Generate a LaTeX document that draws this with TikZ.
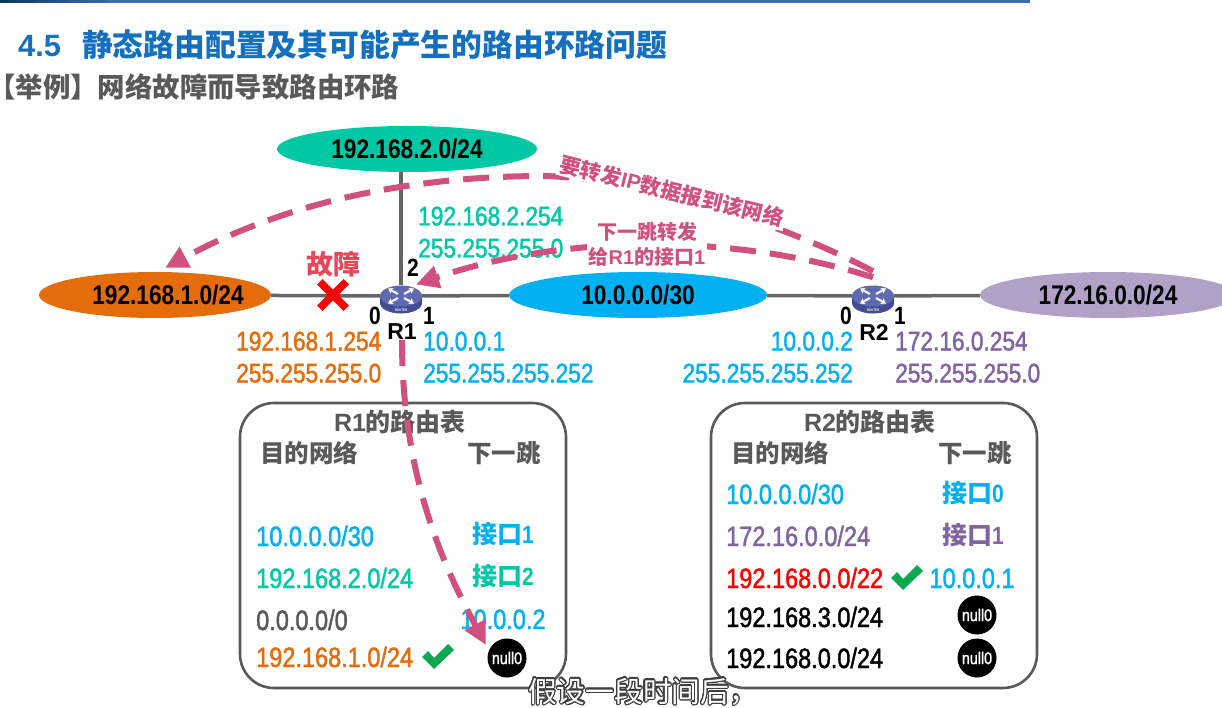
\documentclass[tikz,border=0pt]{standalone}
\usepackage{fontspec}
\usepackage{contour}
\usetikzlibrary{arrows.meta,shapes.geometric,shapes.misc}
\setmainfont{Liberation Sans}[FakeStretch=0.84]
\newfontfamily\medfont{Liberation Sans}[FakeStretch=0.84,FakeBold=1.5]
\newfontfamily\widefont{Liberation Sans}
\newfontfamily\cjk{Noto Sans CJK SC}
\contournumber{24}
\begin{document}
\begin{tikzpicture}[x=1pt, y=-1pt,
    netnode/.style={ellipse, inner sep=0pt, minimum height=46pt, font=\fontsize{27}{30}\selectfont\bfseries},
    linkline/.style={draw=linkcol, line width=3.5pt},
    addr/.style={inner sep=0pt, text height=19pt, text depth=0pt, font=\fontsize{27}{30}\selectfont\medfont},
    rowtext/.style={inner sep=0pt, text height=20pt, text depth=0pt, font=\fontsize{28}{30}\selectfont\medfont},
    hoptext/.style={inner sep=0pt, font=\fontsize{25}{28}\selectfont\bfseries},
    headtext/.style={inner sep=0pt, text=graycol, font=\fontsize{24.5}{28}\selectfont\bfseries\cjk},
    tabletitle/.style={inner sep=0pt, text=graycol, font=\fontsize{25}{28}\selectfont\bfseries},
    portlabel/.style={inner sep=0pt, font=\fontsize{25}{28}\selectfont\bfseries},
    routername/.style={inner sep=0pt, font=\fontsize{23}{26}\selectfont\bfseries\widefont},
    tablebox/.style={draw=graycol, line width=2.6pt, rounded corners=34pt, fill=white},
    nullnode/.style={circle, fill=black, text=white, inner sep=0pt, minimum size=39pt, font=\fontsize{17}{20}\selectfont\medfont},
    pinkarrow/.style={draw=pinkcol, line width=6pt, dash pattern=on 26pt off 14pt, -{Triangle[length=23pt,width=22pt,fill=pinkcol]}},
    pinktext/.style={fill=white, inner sep=2pt, text=pinkcol, align=center, font=\fontsize{21}{26}\selectfont\bfseries},
]

% --- colors ---
\definecolor{titlecol}{RGB}{20,112,190}
\definecolor{barcol}{RGB}{62,110,182}
\definecolor{graycol}{RGB}{89,89,89}
\definecolor{linkcol}{RGB}{102,102,102}
\definecolor{greencol}{RGB}{0,200,165}
\definecolor{orangecol}{RGB}{228,108,10}
\definecolor{bluecol}{RGB}{0,176,240}
\definecolor{purplecol}{RGB}{128,100,162}
\definecolor{lilaccol}{RGB}{178,161,199}
\definecolor{pinkcol}{RGB}{208,80,128}
\definecolor{faultcol}{RGB}{232,70,90}
\definecolor{tickcol}{RGB}{10,168,80}
\definecolor{routercol}{RGB}{68,76,145}
\definecolor{routertop}{RGB}{95,106,176}

\path[use as bounding box] (0,0) rectangle (1222,708);

% --- top bar ---
\fill[left color=titlecol!50!black, right color=barcol] (0,0) rectangle (120,3);
\fill[barcol] (120,0) rectangle (1030,3);

% --- headings ---
\node[anchor=west, inner sep=0pt, text=titlecol, font=\fontsize{30.8}{34}\selectfont\bfseries]
    (title) at (18,45) {{\widefont 4.5}\hspace{21pt}{\cjk 静态路由配置及其可能产生的路由环路问题}};
\node[anchor=west, inner sep=0pt, text=graycol, font=\fontsize{27.4}{30}\selectfont\bfseries\cjk]
    (subtitle) at (-12,87) {【举例】网络故障而导致路由环路};

% --- networks ---
\node[netnode, fill=greencol, minimum width=260pt]  (netA) at (407,149)  {192.168.2.0/24};
\node[netnode, fill=orangecol, minimum width=232pt] (netB) at (155,295)  {};
\node[netnode, fill=bluecol, minimum width=258pt]   (netC) at (638,295)  {10.0.0.0/30};
\node[netnode, fill=lilaccol, minimum width=256pt]  (netD) at (1108,295) {172.16.0.0/24};
\node[inner sep=0pt, font=\fontsize{27}{30}\selectfont\bfseries] (netBtext) at (168,295) {192.168.1.0/24};

% --- routers ---
\foreach \rname/\rx in {R1/401,R2/873} {
    \fill[routercol] (\rx,303) ellipse (21 and 10.5);
    \fill[routercol] (\rx-21,296) rectangle (\rx+21,303);
    \node[ellipse, fill=routertop, inner sep=0pt, minimum width=42pt, minimum height=21pt]
        (\rname) at (\rx,296) {};
    \foreach \sx/\sy in {-1/-1,1/-1,-1/1,1/1} {
        \draw[white, line width=2pt, -{Stealth[length=5pt,width=6.5pt]}]
            (\rx+\sx*3,296+\sy*2) -- ++(\sx*10,\sy*5.5);
    }
    \node[text=white, inner sep=0pt, font=\fontsize{3.5}{4}\selectfont\bfseries]
        (\rname tag) at (\rx,310) {ROUTER};
}

% --- links ---
\draw[linkline] (netA.south -| R1) -- (R1);
\draw[linkline] (netB) -- (R1);
\draw[linkline] (R1) -- (netC);
\draw[linkline] (netC) -- (R2);
\draw[linkline] (R2) -- (netD);

% --- failure mark ---
\node[cross out, draw=red, line width=7.5pt, inner sep=0pt, minimum size=19pt]
    (fault) at (333,295) {};
\node[inner sep=0pt, text=faultcol, font=\fontsize{27}{30}\selectfont\bfseries\cjk]
    (faulttext) at (333,264) {故障};

% --- port labels ---
\foreach \pname/\px/\py/\ptxt in {pa/413/268/2,pb/375/316/0,pc/429/316/1,pd/846/316/0,pe/900/316/1} {
    \node[portlabel] (\pname) at (\px,\py) {\ptxt};
}
\node[routername] (labelA) at (402,332) {R1};
\node[routername] (labelB) at (874,332) {R2};

% --- interface addresses ---
\node[addr, text=greencol, anchor=west]   (addrA) at (418,216) {192.168.2.254};
\node[addr, text=greencol, anchor=west]   (maskA) at (418,248) {255.255.255.0};
\node[addr, text=orangecol, anchor=west]  (addrB) at (236,341) {192.168.1.254};
\node[addr, text=orangecol, anchor=west]  (maskB) at (236,373) {255.255.255.0};
\node[addr, text=bluecol, anchor=west]    (addrC) at (423,341) {10.0.0.1};
\node[addr, text=bluecol, anchor=west]    (maskC) at (423,373) {255.255.255.252};
\node[addr, text=bluecol, anchor=east]    (addrD) at (853,341) {10.0.0.2};
\node[addr, text=bluecol, anchor=east]    (maskD) at (853,373) {255.255.255.252};
\node[addr, text=purplecol, anchor=west]  (addrE) at (895,341) {172.16.0.254};
\node[addr, text=purplecol, anchor=west]  (maskE) at (895,373) {255.255.255.0};

% --- routing tables ---
\node[tablebox, minimum width=326pt, minimum height=285pt] (tableA) at (403,545.5) {};
\node[tablebox, minimum width=326pt, minimum height=285pt] (tableB) at (874,545.5) {};

\node[tabletitle] (titleA) at (400,422) {{\widefont R1}{\cjk 的路由表}};
\node[tabletitle] (titleB) at (870,422) {{\widefont R2}{\cjk 的路由表}};
\node[headtext] (destA) at (309,453) {目的网络};
\node[headtext] (hopA)  at (504,453) {下一跳};
\node[headtext] (destB) at (780,453) {目的网络};
\node[headtext] (hopB)  at (975,453) {下一跳};

% R1 rows
\foreach \rid/\ry/\rc/\rtxt in {a/536/bluecol/{10.0.0.0/30},b/578/greencol/{192.168.2.0/24},c/620/graycol/{0.0.0.0/0},d/657/orangecol/{192.168.1.0/24}} {
    \node[rowtext, text=\rc, anchor=west] (rowA\rid) at (256,\ry) {\rtxt};
}
\node[hoptext, text=bluecol]  (nextAa) at (503,534) {{\cjk 接口}1};
\node[hoptext, text=greencol] (nextAb) at (503,576) {{\cjk 接口}2};

% R2 rows
\foreach \rid/\ry/\rc/\rtxt in {a/494/bluecol/{10.0.0.0/30},b/536/purplecol/{172.16.0.0/24},c/578/red/{192.168.0.0/22},d/617/black/{192.168.3.0/24},e/658/black/{192.168.0.0/24}} {
    \node[rowtext, text=\rc, anchor=west] (rowB\rid) at (726,\ry) {\rtxt};
}
\node[hoptext, text=bluecol]   (nextBa) at (973,493) {{\cjk 接口}0};
\node[hoptext, text=purplecol] (nextBb) at (973,535) {{\cjk 接口}1};
\node[rowtext, text=bluecol]   (nextBc) at (972,578) {10.0.0.1};
\node[rowtext, text=bluecol]   (nextAc) at (503,619) {10.0.0.2};

% null interfaces
\node[nullnode] (nullA) at (507,658) {null0};
\node[nullnode] (nullB) at (977,615) {null0};
\node[nullnode] (nullC) at (977,658) {null0};

% selected entries
\foreach \tx/\ty in {438/656,907/577} {
    \fill[tickcol] (\tx-16,\ty+1) -- (\tx-10,\ty-5) -- (\tx-4,\ty+2) -- (\tx+10,\ty-12)
        -- (\tx+16,\ty-6) -- (\tx-4,\ty+13) -- cycle;
}

% --- forwarding arrows ---
\coordinate (tipA) at (165,268);
\coordinate (tipB) at (486,645);
\draw[pinkarrow] ([yshift=14pt]R2.north) .. controls (800,232) and (660,180) .. (545,176)
    .. controls (430,176) and (300,195) .. (tipA);
\draw[pinkarrow] ([yshift=8pt]R2.north) .. controls (740,235) and (570,232) .. ([yshift=4pt]R1.north east);
\draw[pinkarrow] (labelA.south) .. controls (402,470) and (440,560) .. (tipB);

% --- arrow labels ---
\node[pinktext, rotate=-14] (noteA) at (672,191) {{\cjk 要转发}{\widefont IP}{\cjk 数据报到该网络}};
\node[pinktext, font=\fontsize{20}{25}\selectfont\bfseries] (noteB) at (647,244) {{\cjk 下一跳转发}\\{\cjk 给}{\widefont R1}{\cjk 的接口}{\widefont 1}};

% --- caption ---
\node[anchor=west, inner sep=0pt, text=white, font=\fontsize{28.7}{32}\selectfont\cjk]
    (caption) at (528,692) {\contourlength{1.1pt}\contour{graycol!70!black}{假设一段时间后，}};

\end{tikzpicture}
\end{document}
